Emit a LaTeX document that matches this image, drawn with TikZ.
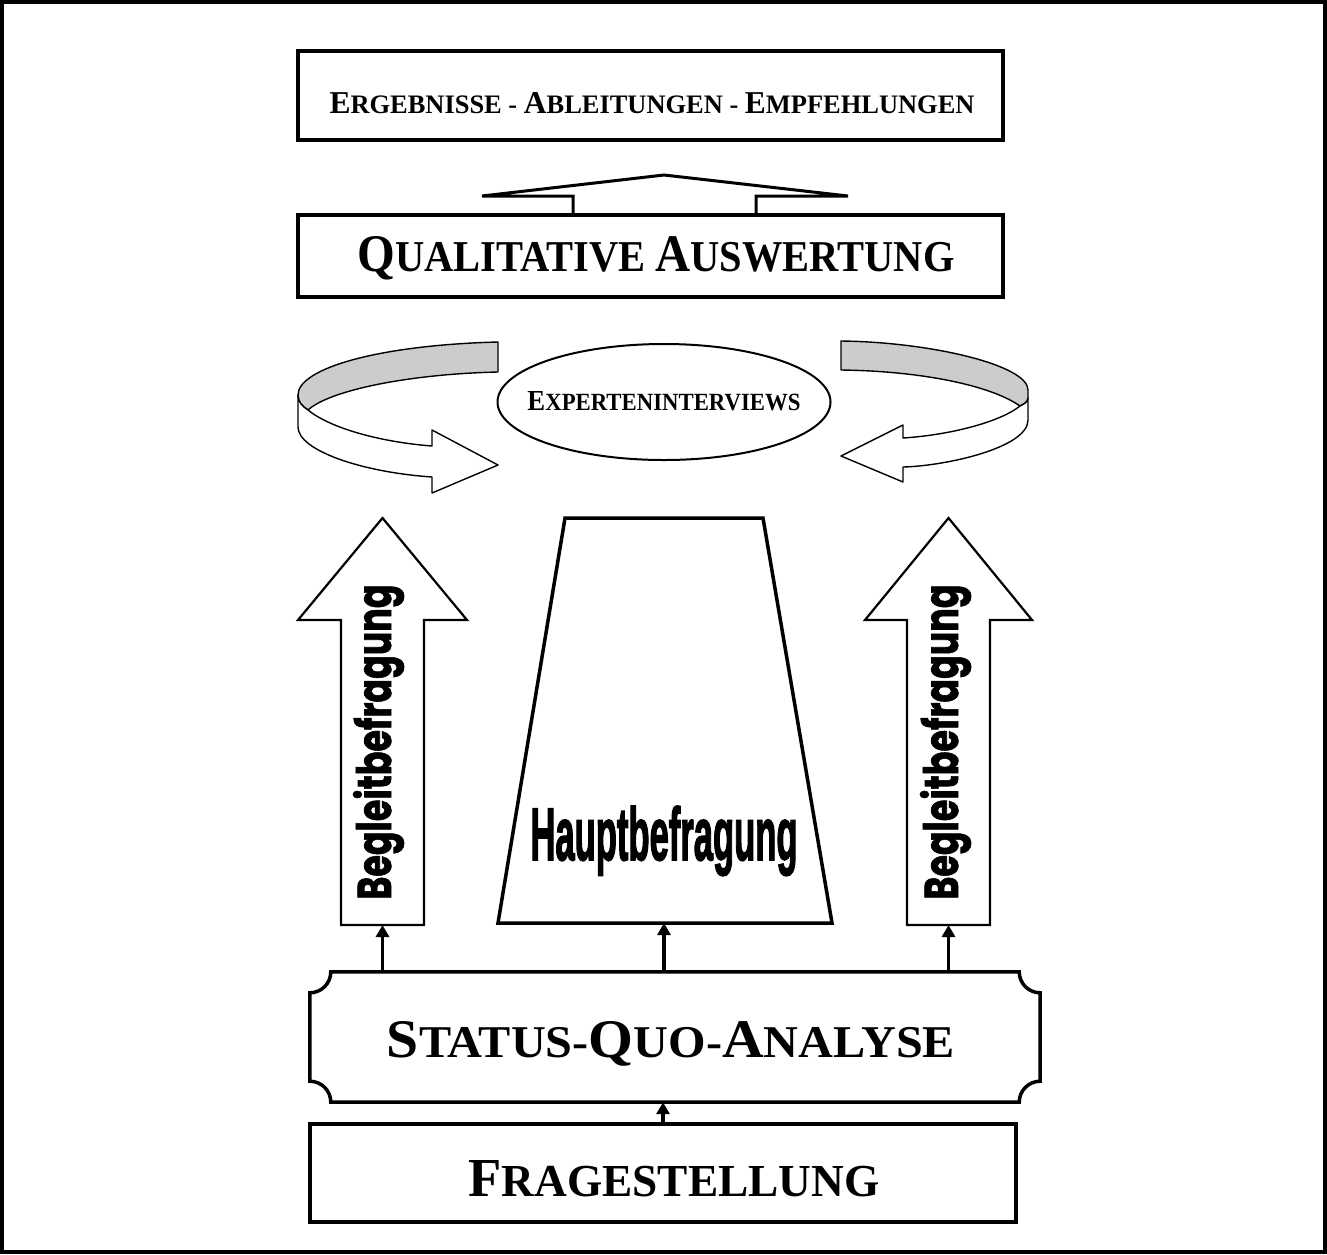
\documentclass[tikz,border=0pt]{standalone}
\usepackage{fontspec}
\usepackage{graphicx}
\setmainfont{Liberation Serif}
\newfontfamily\hauptfont{Liberation Sans}[BoldFeatures={FakeBold=2.5}]
\newfontfamily\beglfont{Poppins}[BoldFeatures={FakeBold=1.5}]
\usetikzlibrary{arrows.meta, shapes.geometric, positioning}

% bigger first capital for the small caps labels
\newcommand{\kapbig}{40}
\newcommand{\kap}[1]{{\fontsize{\kapbig}{\kapbig}\selectfont #1}}

\begin{document}
\begin{tikzpicture}[x=1bp, y=-1bp,
    box/.style={draw, line width=3.5bp, rectangle, inner sep=0pt},
    lbl/.style={anchor=base, inner sep=0pt, font=\bfseries},
    conn/.style={line width=3.5bp, -{Triangle[length=12bp,width=13bp]}},
    ribbon/.style={line width=1.4bp, line join=round},
    bigarrow/.style={draw, line width=2.2bp, line join=miter, fill=white}]
  \useasboundingbox (0,0) rectangle (1327,1254);
  \draw[line width=4bp] (2,2) rectangle (1325,1252);

  % boxes
  \node[box, minimum width=705bp, minimum height=89bp] (ergeb) at (650.5,95.5) {};
  \node[box, minimum width=705bp, minimum height=82bp] (qual) at (650.5,256) {};
  \node[draw, ellipse, line width=2bp, minimum width=333bp, minimum height=116bp] (experten) at (664,402) {};
  \node[inner sep=0pt, minimum width=730bp, minimum height=130bp] (status) at (675,1037) {};
  \node[box, minimum width=706bp, minimum height=98bp] (frage) at (663,1173) {};

  \node[lbl, font=\bfseries\fontsize{26}{26}\selectfont] (ergeb-txt) at (652,113)
    {\renewcommand{\kapbig}{31}\resizebox{645bp}{21bp}{\kap{E}RGEBNISSE - \kap{A}BLEITUNGEN - \kap{E}MPFEHLUNGEN}};
  \node[lbl, font=\bfseries\fontsize{40}{40}\selectfont] (qual-txt) at (656,271)
    {\renewcommand{\kapbig}{48}\resizebox{597bp}{35bp}{\kap{Q}UALITATIVE \kap{A}USWERTUNG}};
  \node[lbl, font=\bfseries\fontsize{23}{23}\selectfont] (experten-txt) at (664,410)
    {\renewcommand{\kapbig}{27}\resizebox{273bp}{19bp}{\kap{E}XPERTENINTERVIEWS}};
  \node[lbl, font=\bfseries\fontsize{46}{46}\selectfont] (status-txt) at (671,1057)
    {\renewcommand{\kapbig}{55}\resizebox{568bp}{36bp}{\kap{S}TATUS-\kap{Q}UO-\kap{A}NALYSE}};
  \node[lbl, font=\bfseries\fontsize{45}{45}\selectfont] (frage-txt) at (674,1196)
    {\renewcommand{\kapbig}{54}\resizebox{411bp}{36bp}{\kap{F}RAGESTELLUNG}};

  % status box with hollow corners
  \draw[line width=3.5bp] ([xshift=21bp]status.north west) -- ([xshift=-21bp]status.north east)
    arc[start angle=180, end angle=270, radius=21bp] -- ([yshift=21bp]status.south east)
    arc[start angle=90, end angle=180, radius=21bp] -- ([xshift=21bp]status.south west)
    arc[start angle=0, end angle=90, radius=21bp] -- ([yshift=-21bp]status.north west)
    arc[start angle=270, end angle=360, radius=21bp] -- cycle;

  % wide arrow qual -> ergeb
  \draw[line width=3bp, line join=miter] (573,215) -- (573,196) -- (482,196) -- (664,175)
    -- (848,196) -- (756,196) -- (756,215);

  % ribbon arrows round the interviews
  \draw[ribbon, fill=black!20] (498,342) .. controls (380,345) and (298,368) .. (298,395)
    .. controls (298,402) and (302,406) .. (308,410)
    .. controls (330,390) and (410,374) .. (498,372) -- cycle;
  \draw[ribbon, fill=white] (298,395) -- (298,427) .. controls (298,450) and (360,472) .. (432,477)
    -- (432,493) -- (498,465) -- (432,430) -- (432,446)
    .. controls (380,442) and (330,428) .. (308,410)
    .. controls (302,406) and (298,402) .. (298,395) -- cycle;
  \draw[ribbon, fill=black!20] (841,341) .. controls (930,342) and (1028,365) .. (1028,390)
    -- (1028,398) .. controls (1028,402) and (1024,404) .. (1020,406)
    .. controls (990,385) and (920,371) .. (841,370) -- cycle;
  \draw[ribbon, fill=white] (1020,406) .. controls (1000,422) and (950,435) .. (903,438)
    -- (903,425) -- (841,456) -- (903,482) -- (903,467)
    .. controls (945,466) and (1028,448) .. (1028,420) -- (1028,398)
    .. controls (1028,402) and (1024,404) .. (1020,406) -- cycle;

  % Hauptbefragung
  \draw[line width=3.5bp, line join=miter] (498,923) -- (565,518) -- (763,518) -- (832,923) -- cycle;
  \coordinate (hbase) at (664,923);
  \node[lbl] (haupt-txt) at (664,860) {\resizebox{267bp}{54bp}{\hauptfont\bfseries Hauptbefragung}};

  % Begleitbefragung arrows
  \draw[bigarrow] (341,925) -- (341,620) -- (298,620) -- (382.5,518) -- (467,620) -- (424,620) -- (424,925) -- cycle;
  \coordinate (lbase) at (382.5,925);
  \node[lbl, rotate=90] (begl-l-txt) at (391,742) {\resizebox{315bp}{38bp}{\beglfont\bfseries Begleitbefragung}};
  \draw[bigarrow] (907,925) -- (907,620) -- (865,620) -- (948.5,518) -- (1032,620) -- (990,620) -- (990,925) -- cycle;
  \coordinate (rbase) at (948.5,925);
  \node[lbl, rotate=90] (begl-r-txt) at (958,742) {\resizebox{315bp}{38bp}{\beglfont\bfseries Begleitbefragung}};

  % connectors
  \draw[conn] (status.north -| lbase) -- (lbase);
  \draw[conn] (status.north -| hbase) -- (hbase);
  \draw[conn] (status.north -| rbase) -- (rbase);
  \draw[conn] (frage.north) -- (frage.north |- status.south);
\end{tikzpicture}
\end{document}
